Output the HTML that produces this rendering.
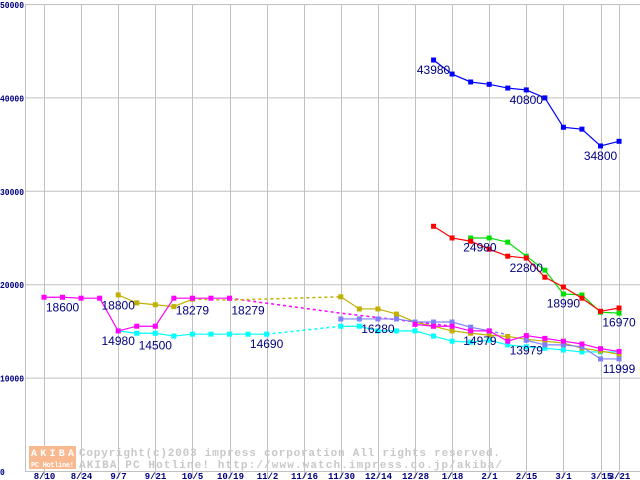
<!DOCTYPE html>
<html><head><meta charset="utf-8">
<style>
html,body{margin:0;padding:0;background:#fff;}
svg{display:block;}
text{font-family:"Liberation Sans",sans-serif;}
.lbl{font-size:12px;fill:#000080;}
.ax{font-size:9px;font-weight:bold;fill:#000080;font-family:"Liberation Mono",monospace;}
</style></head>
<body>
<svg id="chart" width="640" height="480" viewBox="0 0 640 480">
<g id="grid"></g>
<g id="wm">
<rect x="29" y="446" width="47" height="12" fill="#f8b890"/>
<rect x="29" y="458" width="47" height="11" fill="#f8b890"/>
<text x="31" y="456" textLength="43" style="font-size:10px;font-weight:bold;fill:#fff;font-family:'Liberation Mono',monospace">AKIBA</text>
<text x="31" y="467" textLength="43" style="font-size:7px;font-weight:bold;fill:#fff;font-family:'Liberation Mono',monospace">PC Hotline!</text>
<text x="79" y="456" textLength="421" style="font-size:11px;font-weight:bold;fill:#c8c8c8;font-family:'Liberation Mono',monospace">Copyright(c)2003 impress corporation All rights reserved.</text>
<text x="79" y="468" textLength="423" style="font-size:11px;font-weight:bold;fill:#c8c8c8;font-family:'Liberation Mono',monospace">AKIBA PC Hotline!  http://www.watch.impress.co.jp/akiba/</text>
</g>
<g id="series"></g>
<g id="labels"></g>
</svg>
<script>
const xTicks = ["8/10","8/24","9/7","9/21","10/5","10/19","11/2","11/16","11/30","12/14","12/28","1/18","2/1","2/15","3/1","3/15","3/21"];
const xTickIdx = [0,2,4,6,8,10,12,14,16,18,20,22,24,26,28,30,31];
const yTicks = [0,10000,20000,30000,40000,50000];
const magentaA = [[0,18600],[1,18600],[2,18500],[3,18500],[4,15000],[5,15500],[6,15500],[7,18500],[8,18500],[9,18500],[10,18500]];
const magentaD = [[10,18500],[16,16900],[22,15500]];
const magentaB = [[20,15700],[21,15500],[22,15500],[23,15000],[24,15000],[25,13900],[26,14500],[27,14200],[28,13900],[29,13600],[30,13100],[31,12800]];
const oliveA = [[4,18850],[5,18000],[6,17800],[7,17600],[8,18400]];
const oliveD = [[8,18400],[10,18300],[16,18650]];
const oliveB = [[16,18650],[17,17350],[18,17350],[19,16800],[20,15950],[21,15500],[22,15000],[23,14750],[24,14550],[25,14400],[26,14100],[27,13900],[28,13700],[29,13150],[30,12850],[31,12500]];
const cyanA = [[4,15000],[5,14750],[6,14750],[7,14450],[8,14650],[9,14650],[10,14650],[11,14650],[12,14650]];
const cyanD = [[12,14650],[16,15500]];
const cyanB = [[16,15500],[17,15500],[18,15000],[19,15000],[20,15000],[21,14450],[22,13900],[23,13800],[24,14000],[25,13500],[26,13300],[27,13150],[28,12950],[29,12750],[30,12750],[31,12750]];
const periA = [[16,16280],[17,16280],[18,16280],[19,16280],[20,15950],[21,15950],[22,15950],[23,15400],[24,15000]];
const periD = [[24,15000],[25,14600]];
const periB = [[26,14000],[27,13500],[28,13500],[29,13300],[30,12000],[31,12000]];
const blueS = [[21,44000],[22,42500],[23,41650],[24,41400],[25,41000],[26,40800],[27,39950],[28,36800],[29,36600],[30,34800],[31,35300]];
const redS = [[21,26200],[22,24950],[23,24600],[24,23750],[25,23000],[26,22800],[27,20750],[28,19700],[29,18500],[30,17100],[31,17450]];
const greenS = [[23,24950],[24,24950],[25,24500],[26,23000],[27,21500],[28,18950],[29,18850],[30,17000],[31,16900]];
const labelTexts = ["18600","18800","14980","14500","18279","18279","14690","16280","14979","13979","11999","43980","40800","34800","24980","22800","18990","16970"];
const labelPos = [[1,18600],[4,18800],[4,15000],[6,14500],[8,18279],[11,18279],[12,14690],[18,16280],[23.5,14979],[26,13979],[31,11999],[21,43980],[26,40800],[30,34800],[23.5,24980],[26,22800],[28,18990],[31,16970]];

const NS="http://www.w3.org/2000/svg";
const X0=44, XS=18.55, Y0=471, YS=93.4/10000;
const xs=k=>X0+XS*k, ys=v=>Y0-v*YS;
function mk(tag,attrs,parent){const e=document.createElementNS(NS,tag);for(const k in attrs)e.setAttribute(k,attrs[k]);parent.appendChild(e);return e;}
const grid=document.getElementById('grid');
yTicks.forEach(v=>{
  const l=mk('line',{x1:25,x2:640,y1:ys(v)+0.5,y2:ys(v)+0.5,stroke:'#c0c0c0','stroke-width':1},grid);
  
  
  const s=String(v);
  const t=mk('text',{x:0,y:ys(v)+4,class:'ax',textLength:s.length*4.8,lengthAdjust:'spacingAndGlyphs'},grid);
  t.textContent=s;
  
  
});
const ax=mk('line',{x1:25.5,x2:25.5,y1:ys(50000),y2:Y0,stroke:'#c0c0c0'},grid);


xTicks.forEach((s,i)=>{
  const x=Math.round(xs(xTickIdx[i]))+0.5;
  const l=mk('line',{x1:x,x2:x,y1:ys(50000),y2:478,stroke:'#c0c0c0'},grid);
  
  
  const t=mk('text',{x:x,y:479,'text-anchor':'middle',class:'ax'},grid);
  t.textContent=s;
  
  
});
const sg=document.getElementById('series');
function line(pts,color,dashed,markers,name){
  const p=mk('polyline',{points:pts.map(d=>xs(d[0])+','+ys(d[1])).join(' '),fill:'none',stroke:color,'stroke-width':dashed?1.5:1.2},sg);
  if(dashed)p.setAttribute('stroke-dasharray','3,3');
  
  
  if(markers)pts.forEach(d=>{
    const r=mk('rect',{x:xs(d[0])-2.5,y:ys(d[1])-2.5,width:5,height:5,fill:color},sg);
    
    
  });
}
line(magentaD,'#ff00ff',true,false,'magenta-dashed');
line(oliveD,'#c0b000',true,false,'olive-dashed');
line(cyanD,'#00ffff',true,false,'cyan-dashed');
line(periD,'#8080ff',true,false,'periwinkle-dashed');
line(cyanA,'#00ffff',false,true,'cyan-series');
line(cyanB,'#00ffff',false,true,'cyan-series-2');
line(oliveA,'#c0b000',false,true,'olive-series');
line(oliveB,'#c0b000',false,true,'olive-series-2');
line(periA,'#8080ff',false,true,'periwinkle-series');
line(periB,'#8080ff',false,true,'periwinkle-series-2');
line(magentaA,'#ff00ff',false,true,'magenta-series');
line(magentaB,'#ff00ff',false,true,'magenta-series-2');
line(greenS,'#00e000',false,true,'green-series');
line(redS,'#ff0000',false,true,'red-series');
line(blueS,'#0000ff',false,true,'blue-series');
const lg=document.getElementById('labels');
labelTexts.forEach((s,i)=>{
  const p=labelPos[i];
  const t=mk('text',{x:xs(p[0]),y:ys(p[1])+14,'text-anchor':'middle',class:'lbl'},lg);
  t.textContent=s;
  
  
});
</script>
</body></html>
